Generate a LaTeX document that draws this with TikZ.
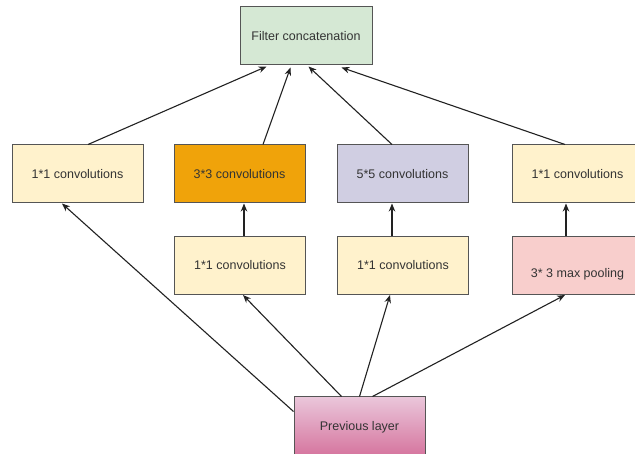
\documentclass[tikz,border=0pt]{standalone}
\usepackage{fontspec}
\setmainfont{Liberation Sans}
\usetikzlibrary{arrows.meta}
\definecolor{cgreen}{HTML}{D5E8D4}
\definecolor{cyellow}{HTML}{FFF2CC}
\definecolor{corange}{HTML}{F0A30A}
\definecolor{cpurple}{HTML}{D0CEE2}
\definecolor{cred}{HTML}{F8CECC}
\definecolor{cpinktop}{HTML}{EAC6DA}
\definecolor{cpinkbot}{HTML}{D5739D}
\definecolor{cborder}{HTML}{555555}
\definecolor{ctext}{HTML}{333333}
\definecolor{cline}{HTML}{222222}
\tikzset{
  box/.style={draw=cborder, line width=1pt, minimum width=131pt, minimum height=58pt,
    inner sep=0pt, font=\fontsize{12.5}{14}\selectfont, text=ctext},
  arr/.style={draw=cline, line width=1.1pt, -{Stealth[length=8pt,width=6.5pt]}}
}
\begin{document}
\begin{tikzpicture}[x=1pt,y=-1pt]
\clip (0,0) rectangle (635,454);
\fill[white] (0,0) rectangle (635,454);
\node[box, fill=cgreen, minimum width=132pt] (fc) at (306,36) {Filter concatenation};
\node[box, fill=cyellow] (b1) at (77.5,174) {1*1 convolutions};
\node[box, fill=corange] (b2) at (239.5,174) {3*3 convolutions};
\node[box, fill=cpurple] (b3) at (402.5,174) {5*5 convolutions};
\node[box, fill=cyellow] (b4) at (577.5,174) {1*1 convolutions};
\node[box, fill=cyellow] (r1) at (240,265.5) {1*1 convolutions};
\node[box, fill=cyellow] (r2) at (403,265.5) {1*1 convolutions};
\node[box, fill=cred, label={[yshift=-9pt, font=\fontsize{12.5}{14}\selectfont, text=ctext, inner sep=0pt]center:3* 3 max pooling}] (pool) at (577.5,265.5) {};
\node[box, top color=cpinktop, bottom color=cpinkbot, minimum height=60pt] (prev) at (359.5,427) {Previous layer};
% to filter concatenation
\draw[arr] ([xshift=10.5pt]b1.north) -- ([xshift=27pt,yshift=-1pt]fc.south west);
\draw[arr] ([xshift=23.5pt]b2.north) -- ([xshift=51pt,yshift=-2pt]fc.south west);
\draw[arr] ([xshift=-10.5pt]b3.north) -- ([xshift=69pt,yshift=-1pt]fc.south west);
\draw[arr] ([xshift=-12.5pt]b4.north) -- ([xshift=102pt,yshift=-2pt]fc.south west);
% vertical
\draw[arr] ([xshift=4pt]r1.north) -- ([xshift=4.5pt]b2.south);
\draw[arr] ([xshift=-11pt]r2.north) -- ([xshift=-10.5pt]b3.south);
\draw[arr] ([xshift=-11.5pt]pool.north) -- ([xshift=-11.5pt]b4.south);
% from previous layer
\draw[arr] ([yshift=-15pt]prev.north west) -- ([xshift=-15.5pt]b1.south);
\draw[arr] ([xshift=48pt]prev.north west) -- ([xshift=3pt]r1.south);
\draw[arr] ([xshift=66pt]prev.north west) -- ([xshift=-13pt]r2.south);
\draw[arr] ([xshift=79pt]prev.north west) -- ([xshift=-12.5pt]pool.south);
\end{tikzpicture}
\end{document}
